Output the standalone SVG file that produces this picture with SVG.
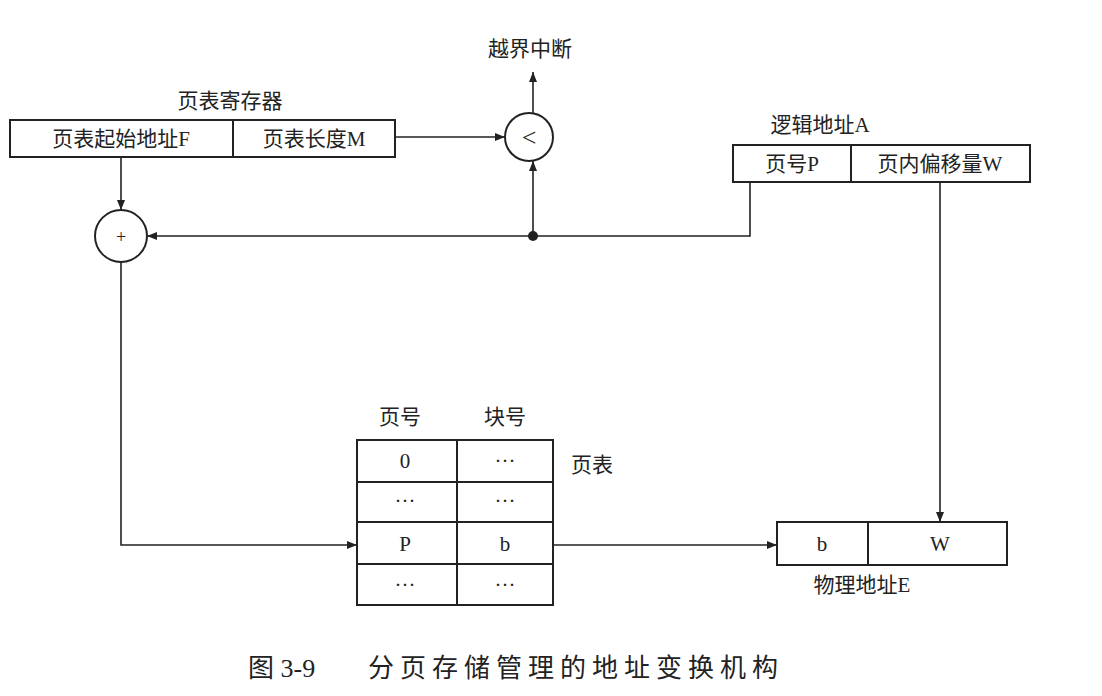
<svg xmlns="http://www.w3.org/2000/svg" width="1102" height="696" viewBox="0 0 1102 696">
<style>
text{font-family:"Liberation Serif","Noto Sans CJK SC",serif;font-size:21px;fill:#222;text-anchor:middle}
.b{fill:none;stroke:#222;stroke-width:2}
.l{fill:none;stroke:#222;stroke-width:1.6}
.c{font-size:26px;text-anchor:start}
</style>
<defs><marker id="a" viewBox="0 0 10 10" refX="10" refY="5" markerWidth="10" markerHeight="10" markerUnits="userSpaceOnUse" orient="auto"><path d="M0,1 L10,5 L0,9 Z" fill="#222"/></marker></defs>
<rect width="1102" height="696" fill="#fff"/>
<g id="reg"><text x="230" y="108">页表寄存器</text><rect class="b" x="10" y="120" width="385" height="37"/><line class="b" x1="233" y1="120" x2="233" y2="157"/><text x="121" y="146">页表起始地址F</text><text x="314" y="146">页表长度M</text></g>
<g id="cmp"><circle class="b" cx="529" cy="137" r="24"/><text x="529" y="146" style="font-size:26px">&lt;</text><text x="530" y="56">越界中断</text></g>
<g id="plus"><circle class="b" cx="121" cy="236" r="26"/><text x="121" y="243" style="font-size:18px">+</text></g>
<g id="la"><text x="820" y="132">逻辑地址A</text><rect class="b" x="733" y="145" width="297" height="37"/><line class="b" x1="851" y1="145" x2="851" y2="182"/><text x="792" y="171">页号P</text><text x="940" y="171">页内偏移量W</text></g>
<g id="pt"><text x="400" y="424">页号</text><text x="505" y="424">块号</text><text x="592" y="472">页表</text>
<rect class="b" x="357" y="440" width="196" height="165"/><line class="b" x1="457" y1="440" x2="457" y2="605"/>
<line class="b" x1="357" y1="482" x2="553" y2="482"/><line class="b" x1="357" y1="522" x2="553" y2="522"/><line class="b" x1="357" y1="564" x2="553" y2="564"/>
<text x="405" y="468">0</text><text x="505" y="468">···</text><text x="405" y="508">···</text><text x="505" y="508">···</text><text x="405" y="551">P</text><text x="505" y="551">b</text><text x="405" y="592">···</text><text x="505" y="592">···</text></g>
<g id="pa"><rect class="b" x="777" y="522" width="230" height="43"/><line class="b" x1="868" y1="522" x2="868" y2="565"/><text x="822" y="551">b</text><text x="940" y="551">W</text><text x="862" y="592">物理地址E</text></g>
<g id="conn">
<line class="l" x1="395" y1="137" x2="505" y2="137" marker-end="url(#a)"/>
<line class="l" x1="533" y1="113" x2="533" y2="72" marker-end="url(#a)"/>
<line class="l" x1="121" y1="157" x2="121" y2="210" marker-end="url(#a)"/>
<polyline class="l" points="750,182 750,236 147,236" marker-end="url(#a)"/>
<circle cx="533" cy="236" r="5" fill="#222"/>
<line class="l" x1="533" y1="236" x2="533" y2="161" marker-end="url(#a)"/>
<polyline class="l" points="121,262 121,545 357,545" marker-end="url(#a)"/>
<line class="l" x1="553" y1="545" x2="777" y2="545" marker-end="url(#a)"/>
<line class="l" x1="940" y1="182" x2="940" y2="522" marker-end="url(#a)"/>
</g>
<text x="248" y="677" class="c">图 3-9</text>
<text x="368" y="677" class="c" style="letter-spacing:6px">分页存储管理的地址变换机构</text>
</svg>
